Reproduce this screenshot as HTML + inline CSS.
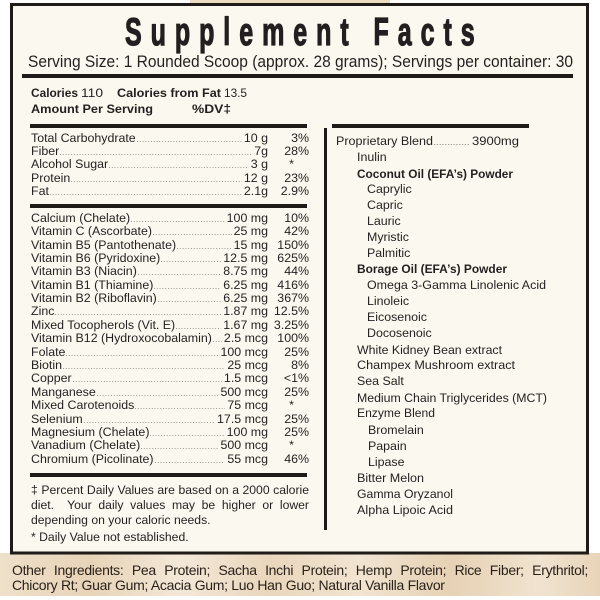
<!DOCTYPE html>
<html>
<head>
<meta charset="utf-8">
<style>
  html,body{margin:0;padding:0;}
  body{width:600px;height:600px;position:relative;overflow:hidden;background:#ffffff;
    font-family:"Liberation Sans",sans-serif;color:#231f20;}
  svg{position:absolute;left:0;top:0;}
  .r{position:absolute;left:31px;width:278px;height:14px;display:flex;align-items:baseline;
     font-size:12.4px;line-height:14px;white-space:nowrap;color:#231f20;}
  .r .l{flex:none;}
  .r .d{flex:1;height:1px;margin:0 2px 0 1px;
     background-image:linear-gradient(to right,#9a948e 40%,transparent 40%);
     background-size:2.8px 1px;background-repeat:repeat-x;}
  .r .v{flex:none;text-align:right;}
  .r .p{flex:none;width:41px;text-align:right;box-sizing:border-box;}
  .r .s{padding-right:15px;}
  .fn{position:absolute;left:31px;width:278px;font-size:12.2px;line-height:14px;white-space:nowrap;color:#231f20;}
  .j{text-align:justify;text-align-last:justify;white-space:normal;}
  .ing{position:absolute;left:12px;width:576px;font-size:14px;line-height:16px;letter-spacing:-0.3px;color:#2a2119;}
</style>
</head>
<body>
<svg width="600" height="600" viewBox="0 0 600 600" xmlns="http://www.w3.org/2000/svg">
  <defs>
    <linearGradient id="tan" x1="0" y1="0" x2="1" y2="0">
      <stop offset="0" stop-color="#efe0ca"/>
      <stop offset="0.15" stop-color="#e7d3b7"/>
      <stop offset="0.3" stop-color="#f3e8d8"/>
      <stop offset="0.45" stop-color="#e9d6bc"/>
      <stop offset="0.6" stop-color="#f1e4d1"/>
      <stop offset="0.75" stop-color="#e6d1b4"/>
      <stop offset="0.9" stop-color="#f0e3cf"/>
      <stop offset="1" stop-color="#e8d4b9"/>
    </linearGradient>
  </defs>
  <rect x="0" y="553" width="600" height="43" fill="url(#tan)"/>
  <rect x="190" y="0" width="200" height="4" fill="#ecdcc2"/>
  <rect x="11.5" y="4.5" width="576" height="548.5" fill="#fbf8ef" stroke="#1f1b18" stroke-width="3"/>

  <text transform="scale(0.65,1)" x="192.3" y="45" font-family="Liberation Sans, sans-serif" font-weight="bold"
        font-size="38.5" fill="#231f20" stroke="#231f20" stroke-width="1.2"
        textLength="538" lengthAdjust="spacing">Supplement Facts</text>

  <text x="28" y="67" font-family="Liberation Sans, sans-serif" font-size="16.3" fill="#231f20"
        textLength="545" lengthAdjust="spacingAndGlyphs">Serving Size: 1 Rounded Scoop (approx. 28 grams); Servings per container: 30</text>

  <rect x="22" y="74" width="551" height="4" fill="#1f1b18"/>
  <rect x="30" y="124" width="277" height="4" fill="#1f1b18"/>
  <rect x="30" y="204" width="277" height="4" fill="#1f1b18"/>
  <rect x="30" y="473" width="277" height="4" fill="#1f1b18"/>
  <rect x="332" y="124" width="197" height="4" fill="#1f1b18"/>
  <rect x="324" y="128" width="3" height="402" fill="#1f1b18"/>

  <g font-family="Liberation Sans, sans-serif" fill="#231f20">
    <text x="31" y="97" font-size="11.9" font-weight="bold" textLength="47" lengthAdjust="spacingAndGlyphs">Calories</text>
    <text x="81" y="97" font-size="11.9" textLength="22" lengthAdjust="spacingAndGlyphs">110</text>
    <text x="117" y="97" font-size="11.9" font-weight="bold" textLength="104" lengthAdjust="spacingAndGlyphs">Calories from Fat</text>
    <text x="224" y="97" font-size="11.9" textLength="23" lengthAdjust="spacingAndGlyphs">13.5</text>
    <text x="31" y="113" font-size="11.9" font-weight="bold" textLength="122" lengthAdjust="spacingAndGlyphs">Amount Per Serving</text>
    <text x="192" y="113" font-size="11.9" font-weight="bold" textLength="39" lengthAdjust="spacingAndGlyphs">%DV‡</text>
  </g>

  <g font-family="Liberation Sans, sans-serif" font-size="12.4" fill="#231f20">
    <text x="336" y="145" textLength="97" lengthAdjust="spacingAndGlyphs">Proprietary Blend</text>
    <line x1="434" y1="144.5" x2="470" y2="144.5" stroke="#9a948e" stroke-width="1" stroke-dasharray="1.2 1.6"/>
    <text x="472" y="145" textLength="47" lengthAdjust="spacingAndGlyphs">3900mg</text>
    <text x="357" y="161">Inulin</text>
    <text x="357" y="178" font-weight="bold" font-size="11.8" textLength="156" lengthAdjust="spacingAndGlyphs">Coconut Oil (EFA’s) Powder</text>
    <text x="367" y="193">Caprylic</text>
    <text x="367" y="209">Capric</text>
    <text x="367" y="225">Lauric</text>
    <text x="367" y="241">Myristic</text>
    <text x="367" y="257">Palmitic</text>
    <text x="357" y="273" font-weight="bold" font-size="11.8" textLength="150" lengthAdjust="spacingAndGlyphs">Borage Oil (EFA’s) Powder</text>
    <text x="367" y="289" textLength="179" lengthAdjust="spacingAndGlyphs">Omega 3-Gamma Linolenic Acid</text>
    <text x="367" y="305">Linoleic</text>
    <text x="367" y="321">Eicosenoic</text>
    <text x="367" y="337">Docosenoic</text>
    <text x="357" y="354" textLength="145" lengthAdjust="spacingAndGlyphs">White Kidney Bean extract</text>
    <text x="357" y="369" textLength="158" lengthAdjust="spacingAndGlyphs">Champex Mushroom extract</text>
    <text x="357" y="385">Sea Salt</text>
    <text x="357" y="402" textLength="190" lengthAdjust="spacingAndGlyphs">Medium Chain Triglycerides (MCT)</text>
    <text x="357" y="417" textLength="78" lengthAdjust="spacingAndGlyphs">Enzyme Blend</text>
    <text x="368" y="434">Bromelain</text>
    <text x="368" y="450">Papain</text>
    <text x="368" y="466">Lipase</text>
    <text x="357" y="482" textLength="67" lengthAdjust="spacingAndGlyphs">Bitter Melon</text>
    <text x="357" y="498" textLength="96" lengthAdjust="spacingAndGlyphs">Gamma Oryzanol</text>
    <text x="357" y="514" textLength="96" lengthAdjust="spacingAndGlyphs">Alpha Lipoic Acid</text>
  </g>
</svg>

<div class="r" style="top:130.7px"><span class="l">Total Carbohydrate</span><span class="d"></span><span class="v">10 g</span><span class="p">3%</span></div>
<div class="r" style="top:144.0px"><span class="l">Fiber</span><span class="d"></span><span class="v">7g</span><span class="p">28%</span></div>
<div class="r" style="top:157.3px"><span class="l">Alcohol Sugar</span><span class="d"></span><span class="v">3 g</span><span class="p s">*</span></div>
<div class="r" style="top:170.7px"><span class="l">Protein</span><span class="d"></span><span class="v">12 g</span><span class="p">23%</span></div>
<div class="r" style="top:184.0px"><span class="l">Fat</span><span class="d"></span><span class="v">2.1g</span><span class="p">2.9%</span></div>

<div class="r" style="top:210.7px"><span class="l">Calcium (Chelate)</span><span class="d"></span><span class="v">100 mg</span><span class="p">10%</span></div>
<div class="r" style="top:224.1px"><span class="l">Vitamin C (Ascorbate)</span><span class="d"></span><span class="v">25 mg</span><span class="p">42%</span></div>
<div class="r" style="top:237.5px"><span class="l">Vitamin B5 (Pantothenate)</span><span class="d"></span><span class="v">15 mg</span><span class="p">150%</span></div>
<div class="r" style="top:250.9px"><span class="l">Vitamin B6 (Pyridoxine)</span><span class="d"></span><span class="v">12.5 mg</span><span class="p">625%</span></div>
<div class="r" style="top:264.3px"><span class="l">Vitamin B3 (Niacin)</span><span class="d"></span><span class="v">8.75 mg</span><span class="p">44%</span></div>
<div class="r" style="top:277.7px"><span class="l">Vitamin B1 (Thiamine)</span><span class="d"></span><span class="v">6.25 mg</span><span class="p">416%</span></div>
<div class="r" style="top:291.0px"><span class="l">Vitamin B2 (Riboflavin)</span><span class="d"></span><span class="v">6.25 mg</span><span class="p">367%</span></div>
<div class="r" style="top:304.4px"><span class="l">Zinc</span><span class="d"></span><span class="v">1.87 mg</span><span class="p">12.5%</span></div>
<div class="r" style="top:317.8px"><span class="l">Mixed Tocopherols (Vit. E)</span><span class="d"></span><span class="v">1.67 mg</span><span class="p">3.25%</span></div>
<div class="r" style="top:331.2px"><span class="l">Vitamin B12 (Hydroxocobalamin)</span><span class="d"></span><span class="v">2.5 mcg</span><span class="p">100%</span></div>
<div class="r" style="top:344.6px"><span class="l">Folate</span><span class="d"></span><span class="v">100 mcg</span><span class="p">25%</span></div>
<div class="r" style="top:358.0px"><span class="l">Biotin</span><span class="d"></span><span class="v">25 mcg</span><span class="p">8%</span></div>
<div class="r" style="top:371.4px"><span class="l">Copper</span><span class="d"></span><span class="v">1.5 mcg</span><span class="p">&lt;1%</span></div>
<div class="r" style="top:384.8px"><span class="l">Manganese</span><span class="d"></span><span class="v">500 mcg</span><span class="p">25%</span></div>
<div class="r" style="top:398.2px"><span class="l">Mixed Carotenoids</span><span class="d"></span><span class="v">75 mcg</span><span class="p s">*</span></div>
<div class="r" style="top:411.6px"><span class="l">Selenium</span><span class="d"></span><span class="v">17.5 mcg</span><span class="p">25%</span></div>
<div class="r" style="top:425.0px"><span class="l">Magnesium (Chelate)</span><span class="d"></span><span class="v">100 mg</span><span class="p">25%</span></div>
<div class="r" style="top:438.3px"><span class="l">Vanadium (Chelate)</span><span class="d"></span><span class="v">500 mcg</span><span class="p s">*</span></div>
<div class="r" style="top:451.7px"><span class="l">Chromium (Picolinate)</span><span class="d"></span><span class="v">55 mcg</span><span class="p">46%</span></div>

<div class="fn j" style="top:482.8px">‡ Percent Daily Values are based on a 2000 calorie</div>
<div class="fn j" style="top:497.8px">diet.&nbsp; Your daily values may be higher or lower</div>
<div class="fn" style="top:512.8px">depending on your caloric needs.</div>
<div class="fn" style="top:529.8px">* Daily Value not established.</div>

<div class="ing" style="top:562.2px;text-align:justify;text-align-last:justify;">Other Ingredients: Pea Protein; Sacha Inchi Protein; Hemp Protein; Rice Fiber; Erythritol;</div>
<div class="ing" style="top:577.2px;">Chicory Rt; Guar Gum; Acacia Gum; Luo Han Guo; Natural Vanilla Flavor</div>
</body>
</html>
